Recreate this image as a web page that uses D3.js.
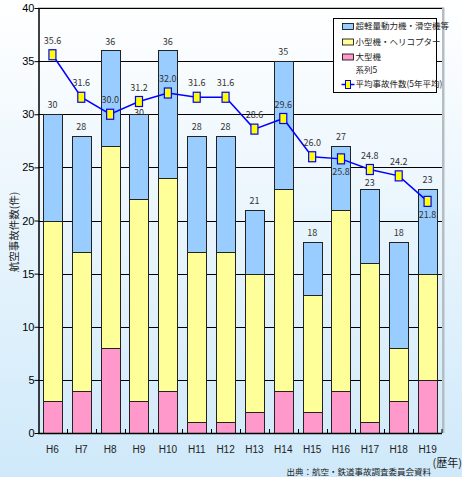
<!DOCTYPE html>
<html>
<head>
<meta charset="utf-8">
<script src="https://cdn.jsdelivr.net/npm/d3@7"></script>
<style>
  html, body { margin: 0; padding: 0; }
  body { width: 462px; height: 477px; overflow: hidden; }
  svg { display: block; font-family: "Noto Sans CJK JP", "Noto Sans", sans-serif; }
</style>
</head>
<body>
<svg id="chart" width="462" height="477"></svg>
<script>
// Aircraft accidents by calendar year (Heisei era)
const years = ["H6","H7","H8","H9","H10","H11","H12","H13","H14","H15","H16","H17","H18","H19"];
const largeAircraft = [3, 4, 8, 3, 4, 1, 1, 2, 4, 2, 4, 1, 3, 5];
const smallAircraft = [17, 13, 19, 19, 20, 16, 16, 13, 19, 11, 17, 15, 5, 10];
const ultralight = [10, 11, 9, 8, 12, 11, 11, 6, 12, 5, 6, 7, 10, 8];
const totals = [30, 28, 36, 30, 36, 28, 28, 21, 35, 18, 27, 23, 18, 23];
const fiveYearAvg = [35.6, 31.6, 30.0, 31.2, 32.0, 31.6, 31.6, 28.6, 29.6, 26.0, 25.8, 24.8, 24.2, 21.8];
const avgLabelBelow = ["H16", "H19"];
const yTicks = [0, 5, 10, 15, 20, 25, 30, 35, 40];

const seriesNames = ["超軽量動力機・滑空機等", "小型機・ヘリコプター", "大型機"];
const seriesColors = { large: "#ff99cc", small: "#ffff99", ultra: "#99ccff" };

const svg = d3.select("#chart");
const W = 462, H = 477;
const plot = { left: 38, right: 442, top: 8, bottom: 433 };

// Page background gradient
const defs = svg.append("defs");
const grad = defs.append("linearGradient").attr("id", "bg").attr("x1", 0).attr("y1", 0).attr("x2", 0).attr("y2", 1);
grad.append("stop").attr("offset", "0%").attr("stop-color", "#ffffff");
grad.append("stop").attr("offset", "100%").attr("stop-color", "#cfe9fa");
svg.append("rect").attr("width", W).attr("height", H).attr("fill", "url(#bg)");

const x = d3.scaleBand().domain(years).range([plot.left, plot.right]).paddingInner(0.34).paddingOuter(0.17);
const xBand = d3.scaleBand().domain(years).range([plot.left, plot.right]);
const y = d3.scaleLinear().domain([0, 40]).range([plot.bottom, plot.top]);

// Plot frame (top + right shadow)
svg.append("line").attr("x1", plot.left).attr("x2", plot.right + 2).attr("y1", plot.top).attr("y2", plot.top)
  .attr("stroke", "#8c8c8c").attr("stroke-width", 1);
svg.append("rect").attr("x", plot.right).attr("y", plot.top).attr("width", 2.5).attr("height", plot.bottom - plot.top)
  .attr("fill", "#b4bcc4");

// Horizontal gridlines
svg.append("g").selectAll("line").data(yTicks.filter(d => d > 0)).join("line")
  .attr("x1", plot.left).attr("x2", plot.right)
  .attr("y1", d => Math.round(y(d)) + 0.5).attr("y2", d => Math.round(y(d)) + 0.5)
  .attr("stroke", "#000").attr("stroke-width", 1);

// Total labels (drawn beneath the bars)
const totalLabelNudge = { H9: 8, H17: 3 };
svg.append("g").selectAll("text").data(years).join("text")
  .attr("x", d => x(d) + x.bandwidth() / 2)
  .attr("y", (d, i) => y(totals[i]) - 9 + (totalLabelNudge[d] || 0))
  .attr("dy", "0.35em").attr("text-anchor", "middle")
  .attr("font-size", 9).attr("fill", "#333").text((d, i) => totals[i]);

// Stacked bars
const rows = years.map((yr, i) => ({ year: yr, large: largeAircraft[i], small: smallAircraft[i], ultra: ultralight[i] }));
const stack = d3.stack().keys(["large", "small", "ultra"])(rows);
svg.append("g").selectAll("g").data(stack).join("g")
  .attr("fill", s => seriesColors[s.key])
  .selectAll("rect").data(s => s).join("rect")
  .attr("x", d => Math.round(x(d.data.year)) + 0.5)
  .attr("y", d => Math.round(y(d[1])) + 0.5)
  .attr("width", Math.round(x.bandwidth()))
  .attr("height", d => Math.round(y(d[0])) - Math.round(y(d[1])))
  .attr("stroke", "#222").attr("stroke-width", 1);

// Y axis
const yAxis = svg.append("g").attr("transform", `translate(${plot.left + 0.5},0)`)
  .call(d3.axisLeft(y).tickValues(yTicks).tickSize(4).tickSizeOuter(0));
yAxis.select(".domain").attr("stroke", "#000").attr("stroke-width", 1.5);
yAxis.selectAll(".tick line").attr("stroke", "#000");
yAxis.selectAll(".tick text").attr("font-size", 11).attr("fill", "#000").attr("x", -4)
  .attr("font-family", "Liberation Sans, Arial, sans-serif");

// X axis with ticks between categories
svg.append("line").attr("x1", plot.left).attr("x2", plot.right).attr("y1", plot.bottom + 0.5).attr("y2", plot.bottom + 0.5)
  .attr("stroke", "#000").attr("stroke-width", 1.5);
svg.append("g").selectAll("line").data(years.slice(1).concat(["end"])).join("line")
  .attr("x1", d => d === "end" ? plot.right : Math.round(xBand(d)) + 0.5)
  .attr("x2", d => d === "end" ? plot.right : Math.round(xBand(d)) + 0.5)
  .attr("y1", plot.bottom - 4).attr("y2", plot.bottom)
  .attr("stroke", "#000");
svg.append("g").selectAll("text").data(years).join("text")
  .attr("x", d => x(d) + x.bandwidth() / 2).attr("y", 449).attr("dy", "0.35em")
  .attr("text-anchor", "middle").attr("font-size", 10).attr("fill", "#222")
  .attr("font-family", "Liberation Sans, Arial, sans-serif")
  .text(d => d);

// Five-year average line
const cx = d => x(d) + x.bandwidth() / 2;
const line = d3.line().x((d, i) => cx(years[i])).y(d => y(d));
svg.append("path").datum(fiveYearAvg).attr("d", line)
  .attr("fill", "none").attr("stroke", "#0000ff").attr("stroke-width", 1.5);
svg.append("g").selectAll("rect").data(fiveYearAvg).join("rect")
  .attr("x", (d, i) => cx(years[i]) - 3.5).attr("y", d => y(d) - 5)
  .attr("width", 7).attr("height", 10)
  .attr("fill", "#ffff00").attr("stroke", "#0000ff").attr("stroke-width", 1.2);
svg.append("g").selectAll("text").data(fiveYearAvg).join("text")
  .attr("x", (d, i) => cx(years[i]))
  .attr("y", (d, i) => y(d) + (avgLabelBelow.includes(years[i]) ? 13 : -14))
  .attr("dy", "0.35em").attr("text-anchor", "middle")
  .attr("font-size", 9).attr("fill", "#333")
  .text(d => d.toFixed(1));

// Legend
const lg = svg.append("g").attr("transform", "translate(333.5,18.5)");
lg.append("rect").attr("width", 103).attr("height", 74).attr("fill", "#fff").attr("stroke", "#000");
const legendItems = [
  { name: seriesNames[0], color: seriesColors.ultra, yy: 8 },
  { name: seriesNames[1], color: seriesColors.small, yy: 23.5 },
  { name: seriesNames[2], color: seriesColors.large, yy: 38.5 }
];
legendItems.forEach(it => {
  lg.append("rect").attr("x", 9).attr("y", it.yy - 3).attr("width", 11).attr("height", 6)
    .attr("fill", it.color).attr("stroke", "#000").attr("stroke-width", 0.8);
  lg.append("text").attr("x", 22).attr("y", it.yy).attr("dy", "0.35em")
    .attr("font-size", 8.5).attr("fill", "#222").text(it.name);
});
lg.append("text").attr("x", 22).attr("y", 52).attr("dy", "0.35em").attr("font-size", 8.5).attr("fill", "#222").text("系列5");
lg.append("line").attr("x1", 8).attr("x2", 21).attr("y1", 66).attr("y2", 66).attr("stroke", "#0000ff").attr("stroke-width", 1.5);
lg.append("rect").attr("x", 12).attr("y", 62).attr("width", 5).attr("height", 8)
  .attr("fill", "#ffff00").attr("stroke", "#0000ff").attr("stroke-width", 1);
lg.append("text").attr("x", 22).attr("y", 66).attr("dy", "0.35em").attr("font-size", 8.5).attr("fill", "#222").text("平均事故件数(5年平均)");

// Axis titles and source note
svg.append("text").attr("transform", "translate(14,232) rotate(-90)")
  .attr("text-anchor", "middle").attr("dy", "0.35em").attr("font-size", 10.5).attr("fill", "#222")
  .text("航空事故件数(件)");
svg.append("text").attr("x", 462).attr("y", 463).attr("dy", "0.35em").attr("text-anchor", "end")
  .attr("font-size", 11).attr("fill", "#222").text("(歴年)");
svg.append("text").attr("x", 431).attr("y", 472).attr("dy", "0.35em").attr("text-anchor", "end")
  .attr("font-size", 8.5).attr("fill", "#222").text("出典：航空・鉄道事故調査委員会資料");
</script>
</body>
</html>
